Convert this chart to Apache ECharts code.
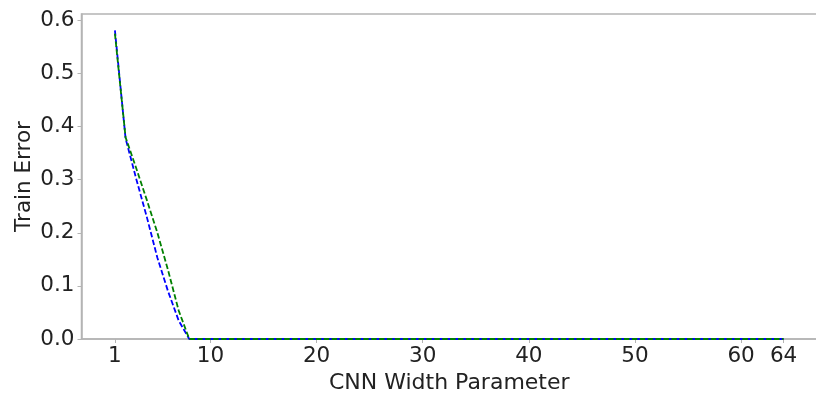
<!DOCTYPE html>
<html>
<head>
<meta charset="utf-8">
<script src="https://cdn.jsdelivr.net/npm/echarts@6/dist/echarts.min.js"></script>
<style>html,body{margin:0;padding:0;background:#fff;}#c{width:816px;height:395px;}</style>
</head>
<body>
<div id="c"></div>
<script>
var widths = [1,2,3,4,5,6,7,8,9,10,11,12,13,14,15,16,17,18,19,20,21,22,23,24,25,26,27,28,29,30,31,32,
              33,34,35,36,37,38,39,40,41,42,43,44,45,46,47,48,49,50,51,52,53,54,55,56,57,58,59,60,61,62,63,64];
var blueErr = [0.581,0.378,0.302,0.230,0.153,0.090,0.035,0,0,0,0,0,0,0,0,0,0,0,0,0,0,0,0,0,0,0,0,0,0,0,0,0,
               0,0,0,0,0,0,0,0,0,0,0,0,0,0,0,0,0,0,0,0,0,0,0,0,0,0,0,0,0,0,0,0];
var greenErr = [0.575,0.380,0.322,0.262,0.200,0.130,0.054,0,0,0,0,0,0,0,0,0,0,0,0,0,0,0,0,0,0,0,0,0,0,0,0,0,
                0,0,0,0,0,0,0,0,0,0,0,0,0,0,0,0,0,0,0,0,0,0,0,0,0,0,0,0,0,0,0,0];
var xTicks = [1,10,20,30,40,50,60,64];
var yTicks = [0,0.1,0.2,0.3,0.4,0.5,0.6];

function pairs(xs, ys){ return xs.map(function(x,i){ return [x, ys[i]]; }); }

var spine = '#b4b4b4';
var txt = '#222222';
var font = 'DejaVu Sans';
var chart = echarts.init(document.getElementById('c'), null, {renderer:'canvas'});
chart.setOption({
  animation: false,
  backgroundColor: '#fff',
  grid: {left: 81.5, right: -1, top: 14, bottom: 56, containLabel: false, outerBoundsMode: 'none',
         show: true, borderColor: spine, borderWidth: 1.5, backgroundColor: 'transparent'},
  xAxis: {
    type: 'value', min: -2.15, max: 67.15,
    name: 'CNN Width Parameter', nameLocation: 'middle', nameGap: 33, nameMoveOverlap: false,
    nameTextStyle: {fontFamily: font, fontSize: 22, color: txt},
    axisLine: {show: true, onZero: false, lineStyle: {color: spine, width: 1.5}},
    axisTick: {show: true, length: 4, lineStyle: {color: spine, width: 1}, customValues: xTicks},
    axisLabel: {fontFamily: font, fontSize: 21.5, color: txt, margin: 6, customValues: xTicks},
    splitLine: {show: false}
  },
  yAxis: {
    type: 'value', min: 0, max: 0.612,
    name: 'Train Error', nameLocation: 'middle', nameGap: 46, nameRotate: 90, nameMoveOverlap: false,
    nameTextStyle: {fontFamily: font, fontSize: 21.5, color: txt},
    axisLine: {show: true, onZero: false, lineStyle: {color: spine, width: 1.5}},
    axisTick: {show: true, length: 4, lineStyle: {color: spine, width: 1}, customValues: yTicks},
    axisLabel: {fontFamily: font, fontSize: 21.5, color: txt, margin: 7, customValues: yTicks,
      formatter: function(v){ return v.toFixed(1); }},
    splitLine: {show: false}
  },
  series: [
    {type: 'line', data: pairs(widths, blueErr), showSymbol: false, symbol: 'none', clip: false,
     lineStyle: {color: '#0000ff', width: 1.8, type: [5.5, 2.4]}, z: 3},
    {type: 'line', data: pairs(widths, greenErr), showSymbol: false, symbol: 'none', clip: false,
     lineStyle: {color: '#008000', width: 1.8, type: [5.5, 2.4]}, z: 4}
  ]
});
</script>
</body>
</html>
